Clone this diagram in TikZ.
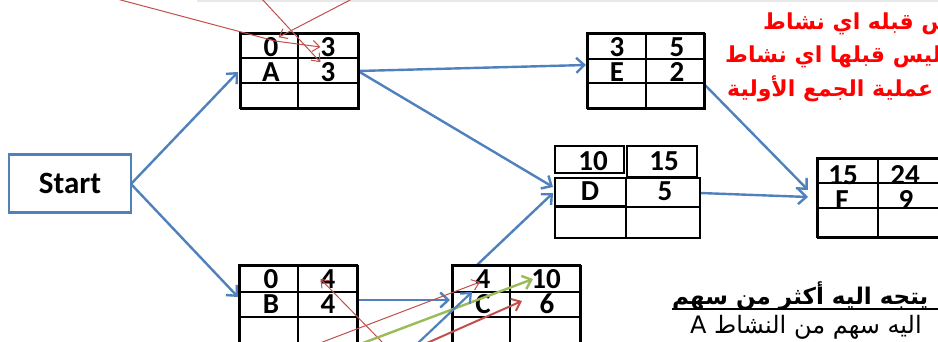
\documentclass[tikz,border=0pt]{standalone}
\usepackage{fontspec}
\setmainfont{Carlito}
\newfontfamily\arabicfont[Script=Arabic]{DejaVu Sans}
\TeXXeTstate=1
\usetikzlibrary{arrows.meta}
\definecolor{oblue}{RGB}{79,129,189}
\definecolor{ored}{RGB}{192,80,77}
\definecolor{ogreen}{RGB}{155,187,89}
\tikzset{
  flow/.style={draw=oblue, line width=2.4pt, -{Straight Barb[length=8pt,width=15pt,line width=2.4pt]}},
  note/.style={draw=ored, line width=1pt, -{Straight Barb[length=7pt,width=11pt,line width=1pt]}},
  notethick/.style={draw=ored, line width=2pt, -{Straight Barb[length=8pt,width=13pt,line width=2pt]}},
  notegreen/.style={draw=ogreen, line width=2.4pt, -{Straight Barb[length=8pt,width=14pt,line width=2.4pt]}},
  noteblue/.style={draw=oblue, line width=2.2pt, -{Straight Barb[length=8pt,width=14pt,line width=2.2pt]}},
  tabline/.style={draw=black, line width=2pt},
  tabbox/.style={draw=black, line width=2pt, fill=white, inner sep=0pt, anchor=north west},
  num/.style={font=\fontsize{29}{29}\selectfont\bfseries, inner sep=0pt},
  startbox/.style={draw=oblue, line width=2.4pt, fill=white, minimum width=122pt, minimum height=58pt, inner sep=0pt, font=\fontsize{31}{31}\selectfont\bfseries},
  artext/.style={anchor=west, inner sep=0pt, font=\arabicfont\fontsize{24}{24}\selectfont},
  redtext/.style={anchor=west, inner sep=0pt, text=red, font=\arabicfont\bfseries\fontsize{22}{22}\selectfont},
}
\begin{document}
\begin{tikzpicture}[x=1pt,y=-1pt]
\useasboundingbox (0,0) rectangle (938,342);
\clip (0,0) rectangle (938,342);
\fill[white] (0,0) rectangle (938,342);
\fill[gray!18] (197,0) rectangle (938,2.5);

% tables (as nodes)
\node[tabbox, minimum width=118pt, minimum height=75pt] (A) at (240,33) {};
\node[tabbox, minimum width=117pt, minimum height=75pt] (E) at (587,33) {};
\node[tabbox, minimum width=145pt, minimum height=92pt, draw=none] (D) at (555,146) {};
\node[tabbox, minimum width=140pt, minimum height=79pt] (F) at (817,158) {};
\node[tabbox, minimum width=118pt, minimum height=90pt] (B) at (239,265) {};
\node[tabbox, minimum width=128pt, minimum height=90pt] (C) at (452,265) {};
\node[startbox] (S) at (70,183.5) {Start};

% anchor points for connectors
\coordinate (S1) at (131,184);
\coordinate (Ain) at (238,72);
\coordinate (Aout) at (358,71);
\coordinate (Ein) at (586,65);
\coordinate (Eout) at (705,85);
\coordinate (Din1) at (553,187);
\coordinate (Din2) at (553,193);
\coordinate (Dout) at (700,193);
\coordinate (Fin1) at (808,190);
\coordinate (Fin2) at (808,197);
\coordinate (Bin) at (238,297);
\coordinate (Bout) at (357,300);
\coordinate (Cin) at (450,300);
\coordinate (Ctop) at (477,265);

% main flow arrows
\draw[flow] (S1) -- (Ain);
\draw[flow] (S1) -- (Bin);
\draw[flow] (Aout) -- (Ein);
\draw[flow] (Aout) -- (Din1);
\draw[flow] (Eout) -- (Fin1);
\draw[flow] (Dout) -- (Fin2);
\draw[flow] (Bout) -- (Cin);
\draw[flow] (Ctop) -- (Din2);

% redraw tables on top
\node[tabbox, minimum width=118pt, minimum height=75pt] at (240,33) {};
\node[tabbox, minimum width=117pt, minimum height=75pt] at (587,33) {};
\fill[white] (555,146) rectangle (700,238);
\node[tabbox, minimum width=140pt, minimum height=79pt] at (817,158) {};
\node[tabbox, minimum width=118pt, minimum height=90pt] at (239,265) {};
\node[tabbox, minimum width=128pt, minimum height=90pt] at (452,265) {};

% texts
\node[num] (A1) at (271,47) {0};
\node[num] (A2) at (328,47) {3};
\node[num] (A3) at (271,72) {A};
\node[num] (A4) at (328,72) {3};
\node[num] (E1) at (617,47) {3};
\node[num] (E2) at (677,47) {5};
\node[num] (E3) at (617,72) {E};
\node[num] (E4) at (677,72) {2};
\node[num] (D1) at (593,161) {10};
\node[num] (D2) at (664,161) {15};
\node[num] (D3) at (590,191) {D};
\node[num] (D4) at (665,191) {5};
\node[num] (F1) at (843,175) {15};
\node[num] (F2) at (905,175) {24};
\node[num] (F3) at (842,200) {F};
\node[num] (F4) at (906,200) {9};
\node[num] (B1) at (271,279) {0};
\node[num] (B2) at (328,279) {4};
\node[num] (B3) at (271,304) {B};
\node[num] (B4) at (328,304) {4};
\node[num] (C1) at (483,279) {4};
\node[num] (C2) at (546,279) {10};
\node[num] (C3) at (483,304) {C};
\node[num] (C4) at (547,304) {6};

% grid lines
\draw[tabline] (240,33) rectangle (358,108);
\draw[tabline] (240,58.5) -- (358,58.5) (240,83.5) -- (358,83.5) (298,33) -- (298,108);
\draw[tabline] (587,33) rectangle (704,108);
\draw[tabline] (587,59) -- (704,59) (587,83.5) -- (704,83.5) (646,33) -- (646,108);
\draw[tabline] (555,146) rectangle (624,173);
\draw[tabline] (627,146) rectangle (697,177);
\draw[tabline] (555,178) rectangle (700,238);
\draw[tabline] (555,207) -- (700,207);
\draw[black, line width=3pt] (555,206.5) -- (625,206.5);
\draw[tabline] (626,177) -- (626,238);
\draw[tabline] (817,158) rectangle (960,237);
\draw[tabline] (817,183) -- (960,183) (817,208) -- (960,208) (878,158) -- (878,238);
\draw[tabline] (239,265) rectangle (357,360);
\draw[tabline] (239,292) -- (357,292) (239,317) -- (357,317) (298,265) -- (298,360);
\draw[tabline] (452,265) rectangle (580,360);
\draw[tabline] (452,292) -- (580,292) (452,317) -- (580,317) (510,265) -- (510,360);

% annotation arrows (top)
\coordinate (p1) at (117,-1);
\coordinate (p2) at (262,-1);
\coordinate (p3) at (352,-1);
\draw[note] (p1) -- (275,41) -- (A2.west);
\draw[note] (p2) -- (A4.north west);
\draw[note] (p3) -- (A1.north east);

% annotation arrows (bottom)
\coordinate (q1) at (320,343);
\coordinate (q2) at (383,343);
\coordinate (q3) at (363,343);
\coordinate (q4) at (418,343);
\coordinate (q5) at (427,343);
\draw[note] (q1) -- (480,282);
\draw[note] (q2) -- (B2.west);
\draw[notegreen] (q3) -- (533,279);
\draw[noteblue] (q4) -- (472,292);
\draw[notethick] (q5) -- (522,301);

% Arabic texts
\node[redtext] (t1) at (763,24) {\beginR ليس قبله اي نشاط\endR};
\node[redtext] (t2) at (725,57) {\beginR ليس قبلها اي نشاط\endR};
\node[redtext] (t3) at (727,89) {\beginR عملية الجمع الأولية\endR};
\node[artext, font=\arabicfont\bfseries\fontsize{23}{23}\selectfont] (b1) at (672,296) {\beginR يتجه اليه أكثر من سهم\endR};
\draw[black, line width=1.5pt] (672,309) -- (938,309);
\node[artext] (b2) at (690,327) {\beginR اليه سهم من النشاط A\endR};
\end{tikzpicture}
\end{document}
